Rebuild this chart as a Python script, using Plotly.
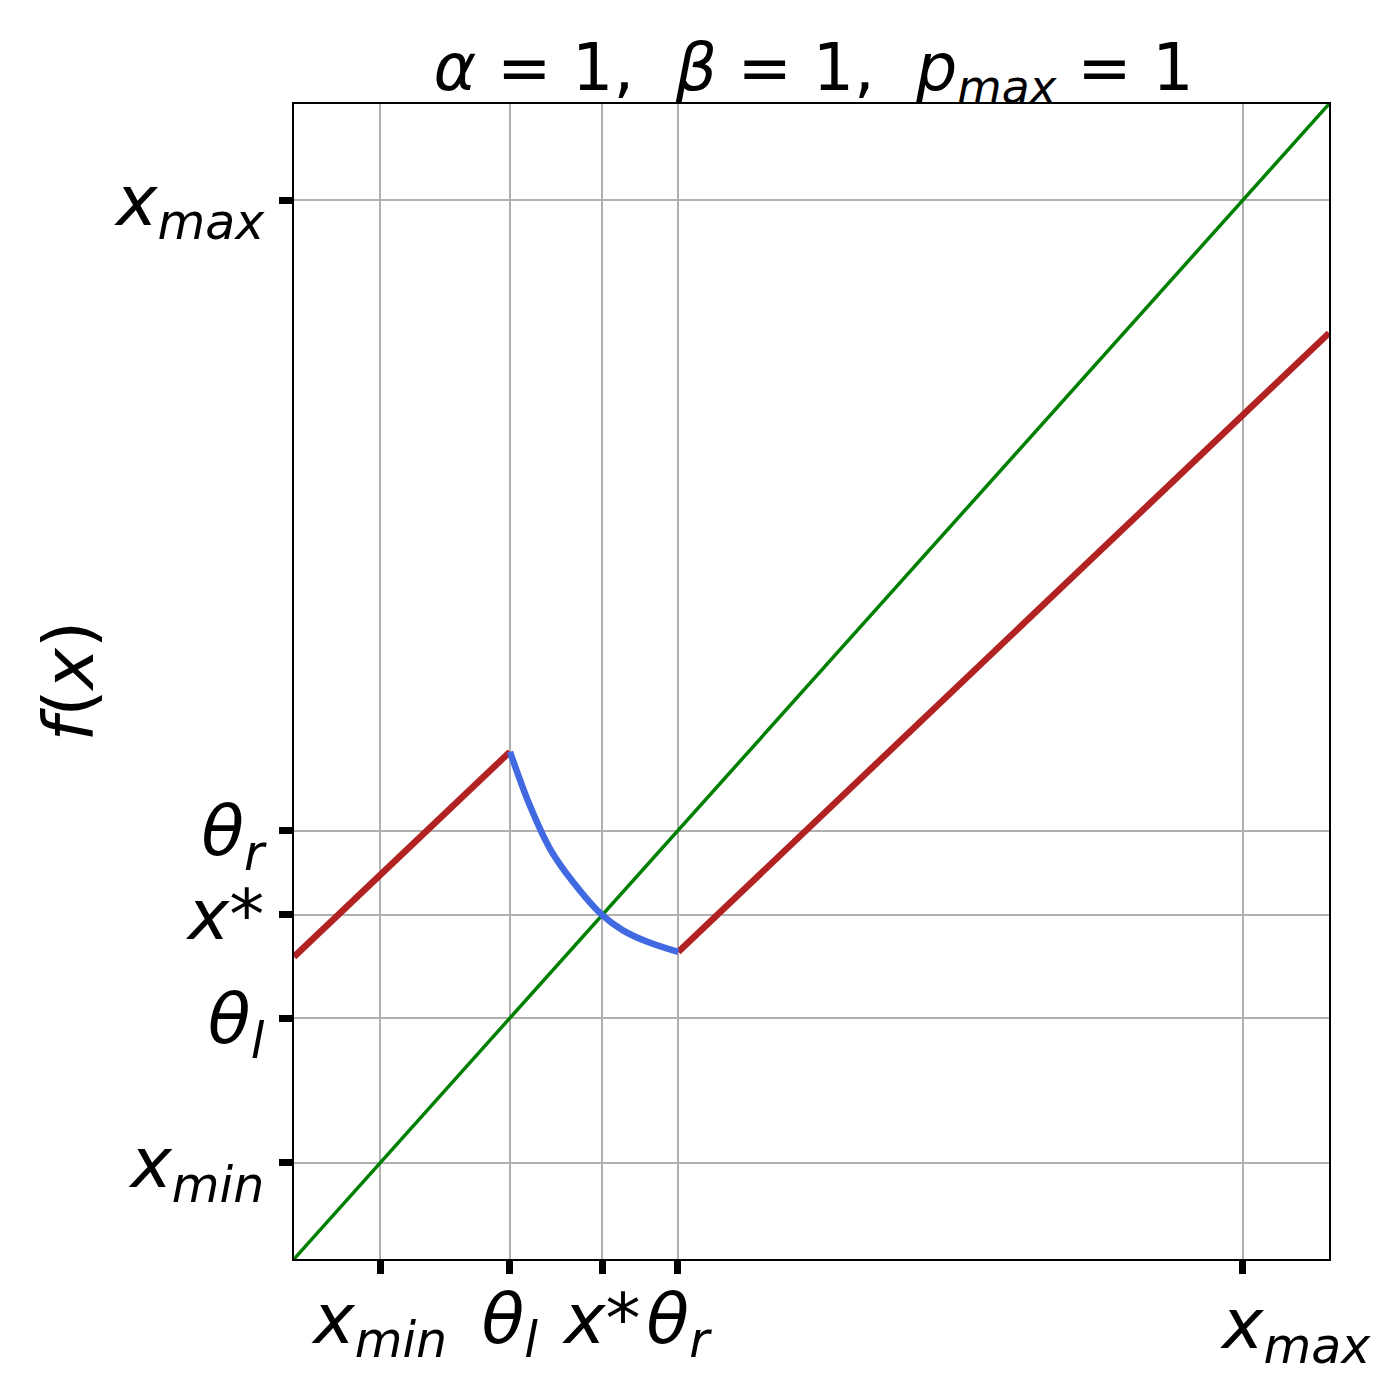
import plotly.graph_objects as go

# Data
axis_range = [-1, 11]
tick_vals = [0, 1.5, 2.575, 3.45, 10]
x_tick_text = ["<i>x</i><sub><i>min</i></sub>", "<i>θ</i><sub><i>l</i></sub>", "<i>x</i>*",
               "<i>θ</i><sub><i>r</i></sub>", "<i>x</i><sub><i>max</i></sub>"]
y_tick_text = ["<i>x</i><sub><i>min</i></sub>", "<i>θ</i><sub><i>l</i></sub>", "<i>x</i>*",
               "<i>θ</i><sub><i>r</i></sub>", "<i>x</i><sub><i>max</i></sub>"]

identity_x = [-1, 11]
identity_y = [-1, 11]

red_left_x = [-1, 1.504]
red_left_y = [2.14, 4.27]
red_right_x = [3.456, 11]
red_right_y = [2.19, 8.62]

blue_x = [1.504, 1.736, 1.968, 2.238, 2.567, 2.818, 3.089, 3.456]
blue_y = [4.27, 3.708, 3.262, 2.913, 2.577, 2.412, 2.299, 2.19]

FONT = "DejaVu Sans"
OFF = 8  # page body margin

fig = go.Figure()
fig.add_trace(go.Scatter(x=identity_x, y=identity_y, mode="lines",
                         line=dict(color="#008000", width=3.5), showlegend=False))
fig.add_trace(go.Scatter(x=red_left_x, y=red_left_y, mode="lines",
                         line=dict(color="#b22222", width=6.5), showlegend=False))
fig.add_trace(go.Scatter(x=red_right_x, y=red_right_y, mode="lines",
                         line=dict(color="#b22222", width=6.5), showlegend=False))
fig.add_trace(go.Scatter(x=blue_x, y=blue_y, mode="lines",
                         line=dict(color="#4169e1", width=6.5, shape="spline", smoothing=1),
                         showlegend=False))

axis_common = dict(
    range=axis_range, tickmode="array", tickvals=tick_vals, automargin=False,
    showgrid=True, gridcolor="#b0b0b0", gridwidth=2,
    zeroline=False, showline=True, linecolor="black", linewidth=1.5, mirror=True,
    ticks="outside", ticklen=13, tickwidth=7, tickcolor="black",
    tickfont=dict(family=FONT, size=70, color="black"),
)

# x-axis: last label is drawn offset to the right (as in the reference)
x_labels_shown = x_tick_text[:-1] + [""]

fig.update_layout(
    width=1400, height=1400,
    margin=dict(l=294 - OFF, r=71 + OFF, t=104 - OFF, b=141 + OFF, autoexpand=False),
    paper_bgcolor="white", plot_bgcolor="white",
    title=dict(text="<i>α</i> = 1,  <i>β</i> = 1,  <i>p</i><sub><i>max</i></sub> = 1",
               font=dict(family=FONT, size=65, color="black"),
               x=0.5754, xanchor="center", xref="container",
               y=1 - 59 / 1400, yanchor="middle", yref="container"),
    xaxis=dict(**axis_common, ticktext=x_labels_shown, tickangle=0, ticklabelstandoff=-15),
    yaxis=dict(**axis_common, ticktext=y_tick_text, ticklabelstandoff=1),
    annotations=[
        dict(text="<i>f</i>(<i>x</i>)", textangle=-90, showarrow=False,
             xref="paper", yref="paper", x=(68 - 294) / 1035, y=0.5,
             xanchor="center", yanchor="middle",
             font=dict(family=FONT, size=70, color="black")),
        dict(text=x_tick_text[-1], showarrow=False,
             xref="x", yref="paper", x=tick_vals[-1], y=0,
             xanchor="left", yanchor="top", xshift=-25, yshift=-22,
             font=dict(family=FONT, size=70, color="black")),
    ],
)

fig.write_html("out.html")
